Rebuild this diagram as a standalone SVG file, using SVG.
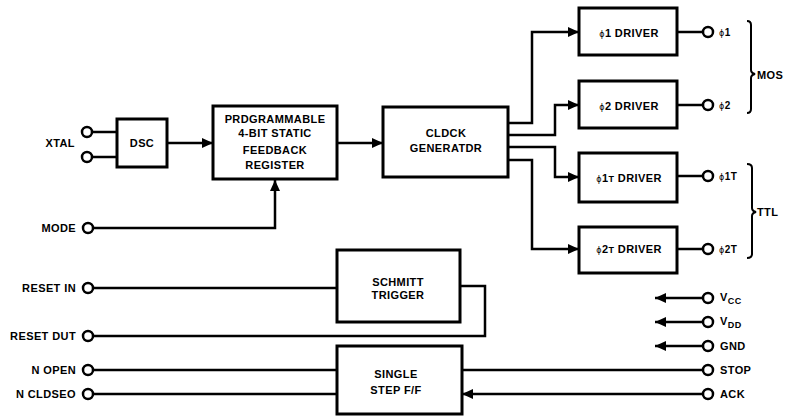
<svg xmlns="http://www.w3.org/2000/svg" width="788" height="419" viewBox="0 0 788 419">
<defs>
<marker id="ah" markerUnits="userSpaceOnUse" markerWidth="12" markerHeight="10" refX="11" refY="5" orient="auto">
<path d="M0,0 L11,5 L0,10 z" fill="#000"/>
</marker>
</defs>
<style>
.box{fill:#fff;stroke:#000;stroke-width:3}
.w{fill:none;stroke:#000;stroke-width:2.5}
.pin{fill:#fff;stroke:#000;stroke-width:2.5}
text{font-family:"Liberation Sans",Arial,sans-serif;font-weight:bold;font-size:11px;letter-spacing:0.4px;fill:#000}
.c{text-anchor:middle}
.e{text-anchor:end}
.sm{font-size:8px;font-family:"DejaVu Sans",sans-serif;font-weight:normal;fill:#000}
.pl{font-size:10px}
.br{fill:none;stroke:#000;stroke-width:2}
</style>
<rect width="788" height="419" fill="#fff"/>

<g id="connectors">
<path class="w" d="M92,132 H117 M92,157 H117"/>
<path class="w" d="M167,143 H213" marker-end="url(#ah)"/>
<path class="w" d="M93,228 H275 V180" marker-end="url(#ah)"/>
<path class="w" d="M337,143 H383" marker-end="url(#ah)"/>
<path class="w" d="M508,123 H532 V32 H579" marker-end="url(#ah)"/>
<path class="w" d="M508,135 H555 V105 H579" marker-end="url(#ah)"/>
<path class="w" d="M508,147 H555 V177 H579" marker-end="url(#ah)"/>
<path class="w" d="M508,160 H532 V249 H579" marker-end="url(#ah)"/>
<path class="w" d="M677,32 H703 M677,105 H703 M677,176 H703 M677,249 H703"/>
<path class="w" d="M93,288 H337"/>
<path class="w" d="M460,286 H485 V336 H93"/>
<path class="w" d="M93,370 H337 M93,394 H337"/>
<path class="w" d="M462,370 H703"/>
<path class="w" d="M703,394 H462" marker-end="url(#ah)"/>
<path class="w" d="M703,298 H655" marker-end="url(#ah)"/>
<path class="w" d="M703,322 H655" marker-end="url(#ah)"/>
<path class="w" d="M703,346 H655" marker-end="url(#ah)"/>
</g>

<g id="pins">
<circle class="pin" cx="87" cy="132" r="5"/>
<circle class="pin" cx="87" cy="157" r="5"/>
<circle class="pin" cx="88" cy="228" r="5"/>
<circle class="pin" cx="88" cy="288" r="5"/>
<circle class="pin" cx="88" cy="336" r="5"/>
<circle class="pin" cx="88" cy="370" r="5"/>
<circle class="pin" cx="88" cy="394" r="5"/>
<circle class="pin" cx="708" cy="32" r="5"/>
<circle class="pin" cx="708" cy="105" r="5"/>
<circle class="pin" cx="708" cy="176" r="5"/>
<circle class="pin" cx="708" cy="249" r="5"/>
<circle class="pin" cx="708" cy="298" r="5"/>
<circle class="pin" cx="708" cy="322" r="5"/>
<circle class="pin" cx="708" cy="346" r="5"/>
<circle class="pin" cx="708" cy="370" r="5"/>
<circle class="pin" cx="708" cy="394" r="5"/>
</g>

<g id="labels">
<text class="e" x="75" y="147">XTAL</text>
<text class="e" x="76" y="232">MODE</text>
<text class="e" x="76" y="292">RESET IN</text>
<text class="e" x="76" y="340">RESET DUT</text>
<text class="e" x="76" y="374">N OPEN</text>
<text class="e" x="76" y="398">N CLDSEO</text>
<text class="pl" x="719" y="36"><tspan class="sm">ϕ</tspan>1</text>
<text class="pl" x="719" y="109"><tspan class="sm">ϕ</tspan>2</text>
<text class="pl" x="719" y="180"><tspan class="sm">ϕ</tspan>1T</text>
<text class="pl" x="719" y="253"><tspan class="sm">ϕ</tspan>2T</text>
<text x="720" y="301">V<tspan font-size="9" dy="3">CC</tspan></text>
<text x="720" y="325">V<tspan font-size="9" dy="3">DD</tspan></text>
<text x="720" y="350">GND</text>
<text x="720" y="374">STOP</text>
<text x="720" y="398">ACK</text>
<text x="757" y="79">MOS</text>
<text x="757" y="216">TTL</text>
<path class="br" d="M747,21 Q751,21 751,25 L751,70 Q751,73 755,74 Q751,75 751,78 L751,109 Q751,113 747,113"/>
<path class="br" d="M747,164 Q752,164 752,168 L752,208 Q752,211 756,212 Q752,213 752,216 L752,254 Q752,258 747,258"/>
</g>

<g id="osc">
<rect class="box" x="117" y="119" width="50" height="48"/>
<text class="c" x="142" y="147">DSC</text>
</g>

<g id="register">
<rect class="box" x="213" y="106" width="124" height="73"/>
<text class="c" x="275" y="123">PRDGRAMMABLE</text>
<text class="c" x="275" y="137">4-BIT STATIC</text>
<text class="c" x="275" y="154">FEEDBACK</text>
<text class="c" x="275" y="169">REGISTER</text>
</g>

<g id="clockgen">
<rect class="box" x="383" y="107" width="125" height="70"/>
<text class="c" x="446" y="137">CLDCK</text>
<text class="c" x="446" y="152">GENERATDR</text>
</g>

<g id="drv1">
<rect class="box" x="579" y="8" width="98" height="47"/>
<text class="c" x="629" y="37"><tspan class="sm">ϕ</tspan>1 DRIVER</text>
</g>
<g id="drv2">
<rect class="box" x="579" y="81" width="98" height="47"/>
<text class="c" x="629" y="110"><tspan class="sm">ϕ</tspan>2 DRIVER</text>
</g>
<g id="drv1t">
<rect class="box" x="579" y="153" width="98" height="49"/>
<text class="c" x="629" y="182"><tspan class="sm">ϕ</tspan>1<tspan font-size="9">T</tspan> DRIVER</text>
</g>
<g id="drv2t">
<rect class="box" x="579" y="227" width="98" height="46"/>
<text class="c" x="629" y="253"><tspan class="sm">ϕ</tspan>2<tspan font-size="9">T</tspan> DRIVER</text>
</g>

<g id="schmitt">
<rect class="box" x="337" y="250" width="123" height="72"/>
<text class="c" x="398" y="286">SCHMITT</text>
<text class="c" x="398" y="299">TRIGGER</text>
</g>

<g id="singlestep">
<rect class="box" x="337" y="346" width="125" height="68"/>
<text class="c" x="396" y="378">SINGLE</text>
<text class="c" x="396" y="394">STEP F/F</text>
</g>
</svg>
